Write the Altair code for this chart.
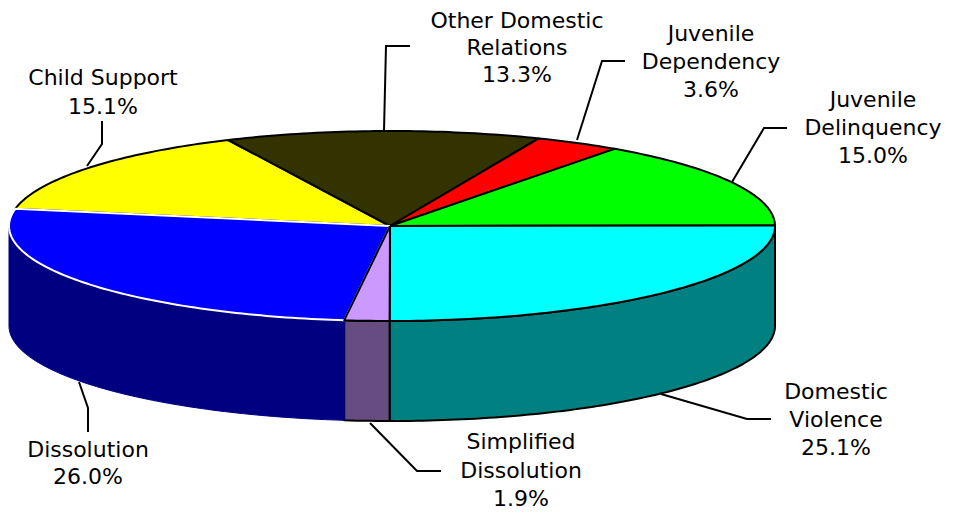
import math
import altair as alt
import pandas as pd

categories = ["Domestic Violence", "Simplified Dissolution", "Dissolution", "Child Support",
              "Other Domestic Relations", "Juvenile Dependency", "Juvenile Delinquency"]
shares = [25.1, 1.9, 26.0, 15.1, 13.3, 3.6, 15.0]
top_colors = ["#00FFFF", "#CC99FF", "#0000FF", "#FFFF00", "#333300", "#FF0000", "#00FF00"]
side_colors = ["#008080", "#664C80", "#000080", "#808000", "#1A1A00", "#800000", "#008000"]
edge_colors = ["#000000", "#000000", "#FFFFFF", "#000000", "#000000", "#000000", "#000000"]

label_lines = [["Domestic", "Violence", "25.1%"], ["Simplified", "Dissolution", "1.9%"],
               ["Dissolution", "26.0%"], ["Child Support", "15.1%"],
               ["Other Domestic", "Relations", "13.3%"], ["Juvenile", "Dependency", "3.6%"],
               ["Juvenile", "Delinquency", "15.0%"]]
label_x = [836, 521, 88, 103, 517, 711, 873]
label_y = [[392, 420, 448], [442, 471, 499], [450, 477], [78, 107], [21, 48, 75], [34, 62, 90], [100, 128, 156]]
leaders = [[(661, 394), (747, 419), (771, 419)], [(370, 423), (417, 471), (441, 471)],
           [(79, 382), (88, 408), (88, 432)], [(87, 166), (102, 144), (102, 121)],
           [(384, 131), (386, 46), (410, 46)], [(577, 140), (602, 61), (625, 61)],
           [(732, 182), (764, 128), (787, 128)]]

LEFT, TOP = 8, 8
W, H = 945, 500
CX, CY, RX_R, RX_L, RY, DEPTH = 390, 226, 385, 381, 95, 100
START = -0.3
FONT = "DejaVu Sans"
FS = 22


def ell(a, dy=0):
    c, s = math.cos(math.radians(a)), math.sin(math.radians(a))
    return (CX + (RX_R if c >= 0 else RX_L) * c, CY + RY * s + dy)


def arc(a0, a1):
    n = max(2, int(abs(a1 - a0)) + 2)
    return [a0 + (a1 - a0) * k / (n - 1) for k in range(n)]


x_s = alt.Scale(domain=[LEFT, LEFT + W], range=[0, W])
y_s = alt.Scale(domain=[TOP, TOP + H], range=[0, H])
X = alt.X("x:Q", scale=x_s, axis=None)
Y = alt.Y("y:Q", scale=y_s, axis=None)


def poly(points, fill, stroke, sw):
    df = pd.DataFrame({"x": [p[0] for p in points], "y": [p[1] for p in points], "i": range(len(points))})
    return alt.Chart(df).mark_line(fill=fill, stroke=stroke, strokeWidth=sw, strokeJoin="round").encode(
        x=X, y=Y, order="i:Q")


layers = []
bounds = []
a = START
for s in shares:
    bounds.append((a, a + s * 3.6))
    a += s * 3.6

# side walls (front half of the disc only)
for i, (a0, a1) in enumerate(bounds):
    if a0 >= 180:
        continue
    a0c, a1c = max(a0, 0), min(a1, 180)
    pts = [ell(t) for t in arc(a0c, a1c)] + [ell(t, DEPTH) for t in arc(a1c, a0c)]
    pts.append(pts[0])
    black = edge_colors[i] == "#000000"
    layers.append(poly(pts, side_colors[i], "#000000" if black else side_colors[i], 2 if black else 1))

# top faces: blue's white edge lies over yellow, lavender's dark edge over blue
for i in [3, 4, 5, 6, 0, 2, 1]:
    a0, a1 = bounds[i]
    pts = [(CX, CY)] + [ell(t) for t in arc(a0, a1)] + [(CX, CY)]
    layers.append(poly(pts, top_colors[i], edge_colors[i], 2))

# leader lines
for j, pts in enumerate(leaders):
    df = pd.DataFrame({"x": [p[0] for p in pts], "y": [p[1] for p in pts], "i": range(len(pts))})
    layers.append(alt.Chart(df).mark_line(color="#000000", strokeWidth=2).encode(x=X, y=Y, order="i:Q"))

# labels
rows = []
for lines, lx, ys in zip(label_lines, label_x, label_y):
    for t, yy in zip(lines, ys):
        rows.append({"x": lx, "y": yy, "t": t})
layers.append(alt.Chart(pd.DataFrame(rows)).mark_text(
    font=FONT, fontSize=FS, color="#000000", align="center", baseline="middle").encode(x=X, y=Y, text="t:N"))

chart = alt.layer(*layers).properties(width=W, height=H, padding=0, background="#FFFFFF").configure_view(stroke=None)
chart.save("out.html", embed_options={"renderer": "svg", "actions": False})
